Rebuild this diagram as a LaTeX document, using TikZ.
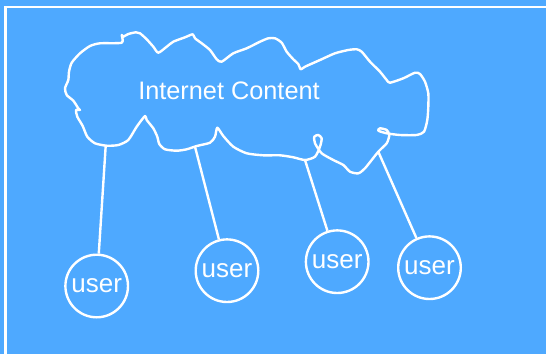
\documentclass[tikz,border=0pt]{standalone}
\usepackage{fontspec}
\setmainfont{Liberation Sans}
\usetikzlibrary{
  shapes,
  calc,
  positioning
}
\definecolor{skyblue}{RGB}{78,169,255}

\begin{document}
\begin{tikzpicture}[x=1pt,y=-1pt,
		usernode/.style={circle,draw=white,line width=2.4pt,inner sep=0pt,minimum size=62.6pt,text=white,font=\fontsize{26}{30}\selectfont},
		wire/.style={draw=white,line width=2.4pt}]
		\useasboundingbox (0,0) rectangle (546,354);
		\fill[skyblue] (0,0) rectangle (546,354);
		\clip (0,0) rectangle (546,354);
		\draw[white,line width=2.5pt] (5.5,7.2) rectangle (570,380);
		% cloud
		\draw[white,line width=2.4pt,line join=round] plot[smooth cycle,tension=0.4] coordinates {
			(121.7,42.7) (100,43.3) (90,46) (80,53.3) (71.7,62.7) (69,71.7) (68.3,80) (65,88.3) (66.7,95)
			(73.3,100.7) (78.3,108.3) (80,110) (76,110) (77.3,116.7) (82.7,126) (87.3,136.7) (95,143.3)
			(106.7,145.7) (118.3,145) (128.3,140) (136.7,126.7) (145,116) (146.7,120) (153.3,128.3)
			(157.3,136.7) (159.3,144) (165,149.3) (176.7,150.7) (186.7,149.3) (196.7,146) (210,142.7)
			(215,136.7) (217.3,127.7) (223.3,136) (233.3,146.7) (246.7,153.3) (263.3,155.3) (280,155.3)
			(293.3,157.3) (305,160) (315,156.7) (320,146.7) (321.7,138.3) (318.3,135) (314.3,136.7)
			(315,143.3) (321.7,153.3) (333.3,160) (343.3,165) (350,171.7) (358.3,173.3) (365,168.3)
			(378.3,151.7) (386.7,143.3) (389.3,135) (386.7,130) (380,128.3) (378.3,130.7) (386.7,133.3)
			(400,135) (416.7,135) (424,131.7) (427.3,120) (428.3,106.7) (428.3,93.3) (425,81.7) (420,74)
			(415,72.7) (403.3,78.3) (390,82.7) (386.7,80) (380,71.7) (370,61.7) (361.7,51.7) (356.7,49.3)
			(348.3,50) (335,53.3) (320,60) (305,66.7) (300.7,69.3) (298.3,64) (293.3,59.3) (286.7,51.7)
			(281.7,42.7) (275,38.3) (268.3,38.3) (260,41.7) (246.7,48.3) (233.3,53.3) (221.7,61.7)
			(216.7,59.3) (210,50) (201.7,43.3) (195,38.3) (192.7,34.3) (185,37.3) (173.3,41.7) (166.7,46.7)
			(158.3,52.7) (153.3,46.7) (146.7,39.3) (140,33.3) (136,32.3) (128.3,34) (123.3,36.7) (121.7,35)};
		\node[text=white,font=\fontsize{25.3}{30}\selectfont] (content) at (229,91) {Internet Content};
		\coordinate (c1) at (105.7,145.7);
		\coordinate (c2) at (195,146.7);
		\coordinate (c3) at (305,160);
		\coordinate (c4) at (378.3,151.7);
		% users
		\node[usernode] (user1) at (96.7,286) {user};
		\node[usernode] (user2) at (227,270.7) {user};
		\node[usernode] (user3) at (337.2,261.7) {user};
		\node[usernode] (user4) at (429.5,267.7) {user};
		\foreach \i in {1,...,4}
			\draw[wire] (c\i) -- (user\i);
	\end{tikzpicture}
\end{document}
